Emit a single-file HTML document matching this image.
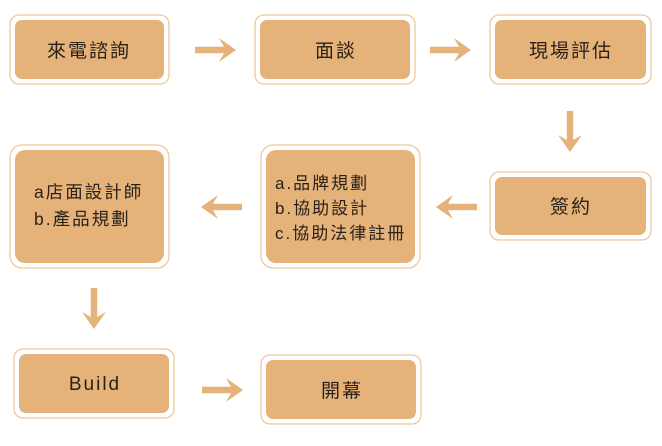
<!DOCTYPE html>
<html><head><meta charset="utf-8"><style>
body{margin:0;background:#fff;}
svg{display:block;}
text{font-family:"Liberation Sans","Noto Sans CJK TC",sans-serif;fill:#2a2118;font-size:17px;letter-spacing:2px;}
.o{fill:#fff;stroke:#EDC99C;stroke-width:1.3;}
.i{fill:#E5B37A;}
.a{fill:#E5B37A;}
</style></head><body>
<svg width="662" height="446" viewBox="0 0 662 446">
<defs>
<path id="ar" d="M0 -3.2H29L24 -12L41 0L24 12L29 3.2H0Z"/>
</defs>
<rect class="o" x="10" y="15" width="159" height="69" rx="9"/><rect class="i" x="15" y="20" width="149" height="59" rx="7"/>
<text x="89" y="57" text-anchor="middle" style="font-size:19px">來電諮詢</text>
<rect class="o" x="255" y="15" width="160" height="69" rx="9"/><rect class="i" x="260" y="20" width="150" height="59" rx="7"/>
<text x="336" y="57" text-anchor="middle" style="font-size:19px">面談</text>
<rect class="o" x="490" y="15" width="161" height="69" rx="9"/><rect class="i" x="495" y="20" width="151" height="59" rx="7"/>
<text x="571" y="57" text-anchor="middle" style="font-size:19px">現場評估</text>
<use href="#ar" class="a" transform="translate(195 50)"/>
<use href="#ar" class="a" transform="translate(430 50)"/>
<use href="#ar" class="a" transform="translate(570 111) rotate(90)"/>
<use href="#ar" class="a" transform="translate(242 207) rotate(180)"/>
<use href="#ar" class="a" transform="translate(477 207) rotate(180)"/>
<use href="#ar" class="a" transform="translate(94 288) rotate(90)"/>
<use href="#ar" class="a" transform="translate(202 390)"/>
<rect class="o" x="10" y="145" width="159" height="123" rx="12"/><rect class="i" x="15" y="150" width="149" height="113" rx="10"/>
<text x="34" y="198" style="font-size:17.5px">a店面設計師</text>
<text x="34" y="225" style="font-size:17.5px">b.產品規劃</text>
<rect class="o" x="261" y="145" width="159" height="123" rx="12"/><rect class="i" x="266" y="150" width="149" height="113" rx="10"/>
<text x="275" y="189">a.品牌規劃</text>
<text x="275" y="214">b.協助設計</text>
<text x="275" y="239">c.協助法律註冊</text>
<rect class="o" x="490" y="172" width="161" height="68" rx="9"/><rect class="i" x="495" y="177" width="151" height="58" rx="7"/>
<text x="571" y="213" text-anchor="middle" style="font-size:19px">簽約</text>
<rect class="o" x="14" y="349" width="160" height="69" rx="9"/><rect class="i" x="19" y="354" width="150" height="59" rx="7"/>
<text x="95" y="390" text-anchor="middle" style="font-size:19px">Build</text>
<rect class="o" x="261" y="355" width="160" height="69" rx="9"/><rect class="i" x="266" y="360" width="150" height="59" rx="7"/>
<text x="342" y="397" text-anchor="middle" style="font-size:19px">開幕</text>
</svg>
</body></html>
